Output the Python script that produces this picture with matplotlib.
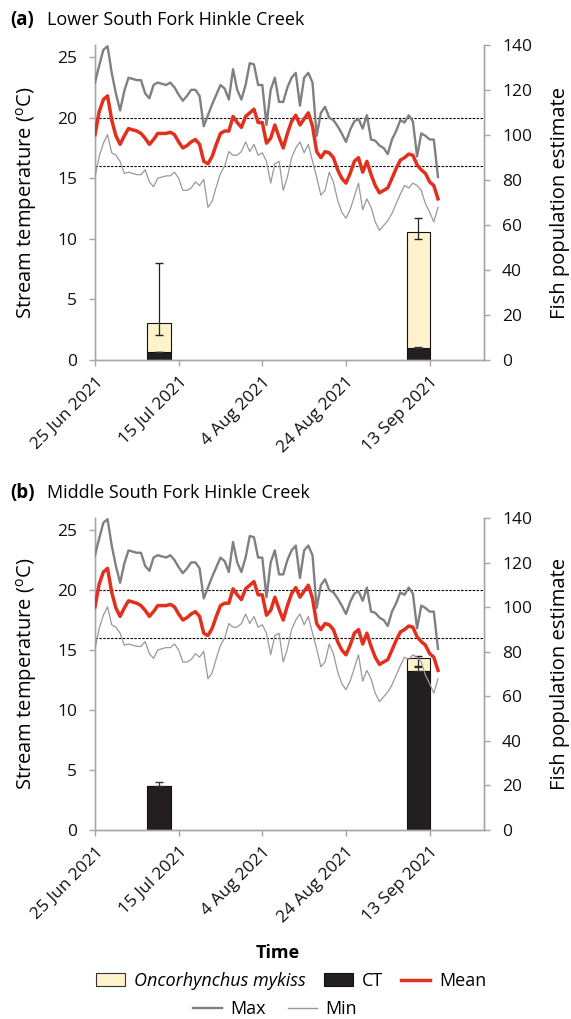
import numpy as np
import pandas as pd
import matplotlib
matplotlib.use('Agg')
import matplotlib.pyplot as plt
from matplotlib.patches import Patch
from matplotlib.lines import Line2D

plt.rcParams['font.family'] = ['Open Sans', 'DejaVu Sans']
plt.rcParams['mathtext.fontset'] = 'custom'
plt.rcParams['mathtext.rm'] = 'Open Sans'

# daily stream temperature (same logger record for both panels)
dates = pd.date_range('2021-06-25', periods=83, freq='D')
t_max = [22.9, 24.3, 25.6, 25.9, 23.7, 22.0, 20.6, 22.2, 23.3, 23.2,
         23.1, 23.1, 22.0, 21.6, 22.7, 22.9, 22.8, 22.7, 22.9, 22.5,
         21.9, 21.4, 21.8, 22.3, 22.3, 21.8, 19.3, 20.2, 21.1, 21.9,
         22.7, 22.4, 21.5, 24.0, 22.3, 21.5, 22.7, 24.5, 24.4, 22.7,
         22.7, 19.4, 22.3, 23.3, 21.3, 21.3, 22.5, 23.3, 23.7, 21.0,
         23.3, 23.7, 22.9, 18.5, 20.4, 20.9, 20.0, 19.8, 19.3, 18.7,
         18.0, 19.0, 19.7, 19.9, 19.1, 20.2, 18.2, 18.1, 17.7, 17.5,
         17.0, 18.2, 18.9, 19.8, 19.6, 20.2, 19.7, 16.8, 18.7, 18.5,
         18.2, 18.2, 15.1]
t_mean = [18.6, 20.5, 21.5, 21.8, 19.8, 18.5, 17.8, 18.5, 19.1, 19.0,
          18.9, 18.7, 18.3, 17.8, 18.2, 18.7, 18.7, 18.7, 18.8, 18.6,
          18.0, 17.5, 17.7, 18.0, 18.2, 17.8, 16.4, 16.2, 16.8, 17.8,
          18.7, 18.9, 18.9, 20.1, 19.6, 19.2, 20.1, 20.4, 20.7, 19.6,
          19.6, 17.9, 18.3, 19.4, 18.4, 17.5, 18.7, 19.7, 20.2, 19.4,
          19.9, 20.4, 19.3, 17.2, 16.7, 17.2, 17.1, 16.7, 15.7, 15.0,
          14.6, 15.4, 16.4, 16.7, 15.5, 16.4, 15.3, 14.4, 13.8, 14.0,
          14.2, 15.0, 15.8, 16.5, 16.7, 17.0, 16.9, 16.1, 15.7, 15.4,
          14.7, 14.4, 13.3]
t_min = [15.1, 16.8, 17.9, 18.6, 17.1, 16.9, 16.4, 15.4, 15.5, 15.4,
         15.3, 15.3, 15.7, 14.7, 14.3, 15.0, 15.1, 15.2, 15.2, 15.5,
         15.0, 14.0, 14.0, 14.2, 14.7, 14.4, 14.9, 12.6, 13.1, 14.3,
         15.4, 16.0, 17.2, 16.9, 16.9, 17.2, 18.0, 17.2, 17.8, 16.9,
         17.1, 16.4, 14.6, 16.2, 16.4, 14.0, 15.1, 16.7, 17.5, 18.0,
         17.1, 17.8, 16.4, 15.1, 13.6, 14.0, 15.5, 14.7, 13.2, 12.2,
         11.7, 12.4, 13.5, 14.6, 12.4, 13.3, 12.6, 11.4, 10.7, 11.1,
         11.5, 12.1, 12.9, 13.7, 14.4, 14.2, 14.6, 14.4, 14.0, 12.9,
         12.2, 11.4, 12.6]

# thresholds (dotted lines)
thresholds = [20, 16]

# fish surveys
survey_dates = pd.to_datetime(['2021-07-10 08:00', '2021-09-10 08:00'])
titles = ['Lower South Fork Hinkle Creek', 'Middle South Fork Hinkle Creek']
letters = ['(a)', '(b)']
ct_est = [[3.4, 5.2], [19.7, 71.5]]
ct_err_lo = [[0.0, 0.0], [0.0, 0.0]]
ct_err_hi = [[0.2, 0.7], [1.8, 1.5]]
om_est = [[12.9, 51.8], [0.0, 5.8]]
om_err_lo = [[5.2, 3.0], [0.0, 3.7]]
om_err_hi = [[26.7, 6.0], [0.0, 1.0]]

tick_dates = pd.date_range('2021-06-25', periods=5, freq='20D')
tick_labels = ['25 Jun 2021', '15 Jul 2021', '4 Aug 2021', '24 Aug 2021', '13 Sep 2021']

c_om = '#FFF2CC'
c_ct = '#231F20'
c_mean = '#E2301E'
c_max = '#808080'
c_min = '#999999'
c_axis = '#A6A6A6'

fig = plt.figure(figsize=(5.71, 10.19), dpi=100)
W, H = 571, 1019
boxes = [(95, 45, 484, 360), (95, 518, 484, 830)]

for i in range(2):
    x0, y0, x1, y1 = boxes[i]
    ax = fig.add_axes([x0 / W, 1 - y1 / H, (x1 - x0) / W, (y1 - y0) / H])
    ax2 = ax.twinx()

    # bars on the secondary axis
    bw = 5.6
    ax2.bar(survey_dates, ct_est[i], width=bw, color=c_ct, edgecolor='#111111',
            linewidth=0.8, zorder=2)
    ax2.errorbar(survey_dates, ct_est[i], yerr=[ct_err_lo[i], ct_err_hi[i]],
                 fmt='none', ecolor='#333333', elinewidth=0.9, capsize=3, zorder=3)
    ax2.bar(survey_dates, om_est[i], width=bw, bottom=ct_est[i], color=c_om,
            edgecolor='#111111', linewidth=0.8, zorder=2)
    tot = np.array(ct_est[i]) + np.array(om_est[i])
    show = np.array(om_est[i]) > 0
    ax2.errorbar(survey_dates[show], tot[show],
                 yerr=[np.array(om_err_lo[i])[show], np.array(om_err_hi[i])[show]],
                 fmt='none', ecolor='#222222', elinewidth=0.9, capsize=3, zorder=3)
    ax2.set_ylim(0, 140)
    ax2.set_yticks(range(0, 141, 20))

    # temperature lines on top
    ax.set_zorder(ax2.get_zorder() + 1)
    ax.patch.set_visible(False)
    for th in thresholds:
        ax.axhline(th, color='black', lw=0.8, ls=(0, (2.2, 1.3)), zorder=1)
    ax.plot(dates, t_max, color=c_max, lw=1.7, zorder=3)
    ax.plot(dates, t_min, color=c_min, lw=0.9, zorder=3)
    ax.plot(dates, t_mean, color=c_mean, lw=2.5, zorder=4)
    ax.set_ylim(0, 26)
    ax.set_yticks(range(0, 26, 5))
    ax.set_xlim(pd.Timestamp('2021-06-25'), pd.Timestamp('2021-06-25') + pd.Timedelta(days=93))
    ax.set_xticks(tick_dates)
    ax.set_xticklabels(tick_labels, rotation=45, ha='right', rotation_mode='anchor')

    for a in (ax, ax2):
        a.spines['top'].set_visible(False)
        for s in ('left', 'right', 'bottom'):
            a.spines[s].set_color(c_axis)
            a.spines[s].set_linewidth(1.0)
        a.tick_params(colors=c_axis, labelcolor='#111111', labelsize=12.5,
                      length=4, width=1.0, direction='out')
    ax.tick_params(axis='y', pad=9)
    ax.tick_params(axis='x', pad=6)
    ax2.tick_params(axis='y', pad=9)

    ax.set_ylabel(r'Stream temperature ($^{\mathrm{o}}$C)', fontsize=14.5, labelpad=13)
    ax2.set_ylabel('Fish population estimate', fontsize=14.5, labelpad=13)

    ty = 1 - (y0 - 25) / H
    fig.text(10 / W, ty, letters[i], fontsize=13.5, fontweight='bold', va='center')
    fig.text(47 / W, ty, titles[i], fontsize=13, va='center')

fig.text(278 / W, 1 - 953 / H, 'Time', fontsize=13, fontweight='bold',
         ha='center', va='center')

h1 = [Patch(facecolor=c_om, edgecolor='#333333', linewidth=0.8),
      Patch(facecolor=c_ct, edgecolor='#111111', linewidth=0.8),
      Line2D([], [], color=c_mean, lw=2.5)]
leg1 = fig.legend(h1, ['Oncorhynchus mykiss', 'CT', 'Mean'], ncol=3, frameon=False,
                  loc='center', bbox_to_anchor=(291 / W, 1 - 981 / H), fontsize=13,
                  handlelength=1.6, handletextpad=0.5, columnspacing=1.0,
                  borderaxespad=0, borderpad=0)
leg1.get_texts()[0].set_fontstyle('italic')
h2 = [Line2D([], [], color=c_max, lw=1.7), Line2D([], [], color=c_min, lw=1.0)]
fig.legend(h2, ['Max', 'Min'], ncol=2, frameon=False, loc='center',
           bbox_to_anchor=(275 / W, 1 - 1009 / H), fontsize=13,
           handlelength=1.6, handletextpad=0.5, columnspacing=1.2,
           borderaxespad=0, borderpad=0)

fig.savefig('out.png', dpi=100)
